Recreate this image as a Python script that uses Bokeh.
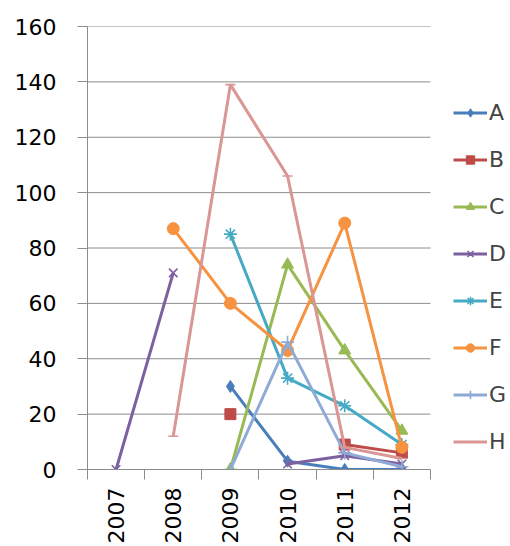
import numpy as np
from bokeh.plotting import figure
from bokeh.models import FixedTicker, Legend, LegendItem
from bokeh.embed import file_html
from bokeh.resources import INLINE

nan = float("nan")

years = ["2007", "2008", "2009", "2010", "2011", "2012"]
y_ticks = [0, 20, 40, 60, 80, 100, 120, 140, 160]

series_a = [nan, nan, 30, 3, 0, 0]
series_b = [nan, nan, 20, nan, 9, 6]
series_c = [nan, nan, 0, 74, 43, 14]
series_d = [0, 71, nan, 2, 5, 2]
series_e = [nan, nan, 85, 33, 23, 9]
series_f = [nan, 87, 60, 43, 89, 8]
series_g = [nan, nan, 0, 46, 6, 1]
series_h = [nan, 12, 139, 106, 8, 4]

names = ["A", "B", "C", "D", "E", "F", "G", "H"]
values = [series_a, series_b, series_c, series_d, series_e, series_f, series_g, series_h]
colors = ["#4A7EBB", "#BE4B48", "#98B954", "#7D60A0", "#46AAC5", "#F69240", "#8EAAD6", "#D99694"]
markers = ["diamond", "square", "triangle", "x", "asterisk", "circle", "cross", "dash"]
marker_sizes = [12, 11, 12, 12, 13, 12, 13, 10]

FONT = "DejaVu Sans"
FONT_SIZE = "22px"
GRID = "#8C8C8C"

n = len(years)
# category slots on a numeric scale: slot i spans [i, i+1], point sits at its centre.
# The frame runs on to the right edge so the legend can live inside it; the
# extra x range beyond n is the legend's strip.
xs = np.arange(n) + 0.5

p = figure(width=510, height=546, output_backend="svg", toolbar_location=None,
           x_range=(0, 7.4), y_range=(0, 160),
           min_border_left=87, min_border_right=0, min_border_top=26, min_border_bottom=77)
p.outline_line_color = None
p.background_fill_color = "white"
p.border_fill_color = "white"

# horizontal gridlines only across the category slots
p.segment(x0=[0] * len(y_ticks), x1=[n] * len(y_ticks), y0=y_ticks, y1=y_ticks,
          line_color=GRID, line_width=1)

items = []
for name, vals, col, mk, ms in zip(names, values, colors, markers, marker_sizes):
    y = np.array(vals, dtype=float)
    ln = p.line(xs, y, line_color=col, line_width=3)
    if mk in ("x", "asterisk", "cross", "dash"):
        sc = p.scatter(xs, y, marker=mk, size=ms, line_color=col, line_width=1.6, fill_color=col)
    else:
        sc = p.scatter(xs, y, marker=mk, size=ms, line_color=col, line_width=1, fill_color=col)
    items.append(LegendItem(label=name, renderers=[ln, sc]))

# y axis
p.yaxis.ticker = FixedTicker(ticks=y_ticks)
p.yaxis.axis_line_color = GRID
p.yaxis.major_tick_line_color = GRID
p.yaxis.major_tick_out = 10
p.yaxis.major_tick_in = 0
p.yaxis.minor_tick_line_color = None
p.yaxis.major_label_standoff = 21
p.yaxis.major_label_text_font = FONT
p.yaxis.major_label_text_font_size = FONT_SIZE
p.yaxis.major_label_text_color = "black"

# x axis: labels at slot centres, tick marks at slot boundaries
p.xaxis.bounds = (0, n)
p.xaxis.ticker = FixedTicker(ticks=list(xs), minor_ticks=list(range(n + 1)))
p.xaxis.major_label_overrides = {float(x): lab for x, lab in zip(xs, years)}
p.xaxis.major_label_orientation = np.pi / 2
p.xaxis.axis_line_color = GRID
p.xaxis.major_tick_line_color = None
p.xaxis.major_tick_out = 0
p.xaxis.major_tick_in = 0
p.xaxis.minor_tick_line_color = GRID
p.xaxis.minor_tick_out = 10
p.xaxis.minor_tick_in = 0
p.xaxis.major_label_standoff = 8
p.xaxis.major_label_text_font = FONT
p.xaxis.major_label_text_font_size = FONT_SIZE
p.xaxis.major_label_text_color = "black"

p.xgrid.grid_line_color = None
p.ygrid.grid_line_color = None

legend = Legend(items=items, location=(366, 15), orientation="vertical",
                glyph_width=34, glyph_height=21, spacing=22, label_standoff=2,
                label_text_font=FONT, label_text_font_size=FONT_SIZE, label_height=21,
                padding=0, margin=0, border_line_color=None, background_fill_alpha=0)
p.add_layout(legend, "center")

open("out.html", "w").write(file_html(p, INLINE))
